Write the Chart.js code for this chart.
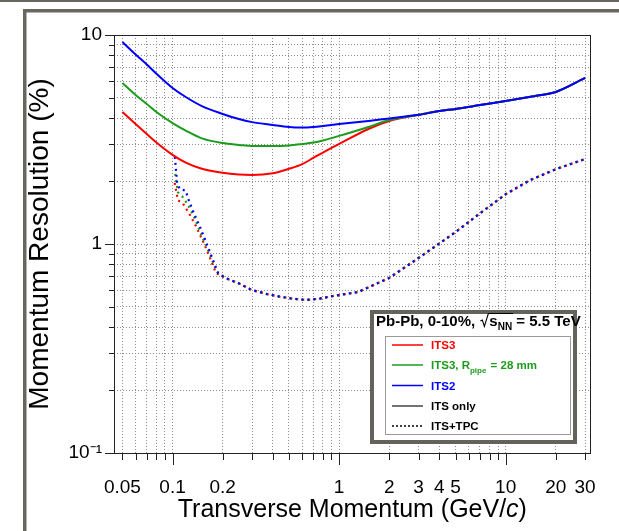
<!DOCTYPE html>
<html><head><meta charset="utf-8">
<script src="https://cdn.jsdelivr.net/npm/chart.js@4"></script>
<style>html,body{margin:0;padding:0;background:#fff;overflow:hidden}canvas{display:block}</style>
</head><body>
<canvas id="c" width="619" height="531" style="width:619px;height:531px"></canvas>
<script>
// ---- data ----
const pSolid = [0.05,0.06,0.07,0.08,0.1,0.12,0.15,0.2,0.25,0.3,0.4,0.5,0.6,0.7,0.8,1,1.5,2,3,4,5,7,10,15,20,30];
const its3Only = [4.28,3.75,3.36,3.06,2.67,2.45,2.29,2.19,2.15,2.14,2.18,2.29,2.41,2.58,2.74,3.01,3.55,3.88,4.15,4.33,4.43,4.62,4.83,5.11,5.34,6.23];
const its3PipeOnly = [5.89,5.16,4.68,4.28,3.79,3.49,3.20,3.04,2.98,2.94,2.94,2.96,3.01,3.06,3.13,3.29,3.63,3.92,4.15,4.33,4.43,4.62,4.83,5.11,5.34,6.23];
const its2Only = [9.26,8.07,7.23,6.53,5.58,5.05,4.57,4.19,3.96,3.83,3.71,3.63,3.61,3.63,3.67,3.75,3.88,3.99,4.15,4.33,4.43,4.62,4.83,5.11,5.34,6.23];

const pTpcIts3 = [0.103,0.1076,0.115,0.127,0.138,0.154,0.17,0.182,0.21,0.25,0.3,0.37,0.44,0.53,0.63,0.76,0.92,1.3,2,3,5,7,10,14,20,30];
const its3Tpc = [1.96,1.62,1.57,1.38,1.22,1.01,0.838,0.726,0.685,0.648,0.602,0.576,0.560,0.547,0.540,0.547,0.564,0.589,0.688,0.857,1.14,1.40,1.73,2.02,2.28,2.55];
const pTpcIts3Pipe = [0.103,0.1076,0.115,0.1235,0.134,0.15,0.167,0.184,0.21,0.25,0.3,0.37,0.44,0.53,0.63,0.76,0.92,1.3,2,3,5,7,10,14,20,30];
const its3PipeTpc = [2.26,1.77,1.68,1.54,1.36,1.09,0.896,0.735,0.685,0.648,0.602,0.576,0.560,0.547,0.540,0.547,0.564,0.589,0.688,0.857,1.14,1.40,1.73,2.02,2.28,2.55];
const pTpcIts2 = [0.103,0.1065,0.1106,0.12,0.124,0.133,0.146,0.16,0.175,0.188,0.21,0.25,0.3,0.37,0.44,0.53,0.63,0.76,0.92,1.3,2,3,5,7,10,14,20,30];
const its2Tpc = [2.67,1.95,1.83,1.80,1.65,1.43,1.21,1.008,0.838,0.724,0.685,0.648,0.602,0.576,0.560,0.547,0.540,0.547,0.564,0.589,0.688,0.857,1.14,1.40,1.73,2.02,2.28,2.55];

const xTickValues = [0.05,0.06,0.07,0.08,0.09,0.1,0.2,0.3,0.4,0.5,0.6,0.7,0.8,0.9,1,2,3,4,5,6,7,8,9,10,20,30];
const xLabelValues = [0.05,0.1,0.2,1,2,3,4,5,10,20,30];
const xLabelTexts = ['0.05','0.1','0.2','1','2','3','4','5','10','20','30'];
const yTickValues = [0.1,0.2,0.3,0.4,0.5,0.6,0.7,0.8,0.9,1,2,3,4,5,6,7,8,9,10];
const yLabelValues = [0.1,1,10];
const yLabelTexts = ['10\u207B\u00B9','1','10'];
const decades = [0.1,1,10];

const xTitle = ['Transverse Momentum (GeV/', 'c', ')'];
const yTitle = 'Momentum Resolution (%)';
const legendTitle = ['Pb-Pb, 0-10%, ', 's', 'NN', ' = 5.5 TeV'];
const legendEntries = ['ITS3', 'ITS3, R', 'ITS2', 'ITS only', 'ITS+TPC'];

// ---- style ----
const RED = '#ff0000', GREEN = '#1c9c1c', BLUE = '#0000ff';
const FONT = '"Liberation Sans", Arial, Helvetica, sans-serif';
const toXY = (xs, ys) => xs.map((x, i) => ({x: x, y: ys[i]}));

function solid(label, xs, ys, color, order) {
  return {label, data: toXY(xs, ys), borderColor: color, backgroundColor: color, borderWidth: 2,
    pointRadius: 0, showLine: true, cubicInterpolationMode: 'monotone', order};
}
function dotted(label, xs, ys, color, offset, order) {
  return {label, data: toXY(xs, ys), borderColor: color, backgroundColor: color, borderWidth: 2.2,
    pointRadius: 0, showLine: true, tension: 0, borderDash: [2, 4], borderDashOffset: offset, borderCapStyle: 'butt', order};
}

const decor = {
  id: 'decor',
  beforeDraw(chart) {
    const ctx = chart.ctx;
    ctx.save();
    ctx.fillStyle = '#fff';
    ctx.fillRect(0, 0, chart.width, chart.height);
    ctx.fillStyle = '#68675f';
    ctx.fillRect(0, 0, chart.width, 2);
    ctx.fillRect(23, 9, chart.width - 23, 3.5);
    ctx.fillRect(23, 9, 3.5, chart.height - 9);
    ctx.restore();
  },
  afterDatasetsDraw(chart) {
    const ctx = chart.ctx, ca = chart.chartArea;
    const xs = chart.scales.x, ys = chart.scales.y;
    ctx.save();
    // frame
    ctx.strokeStyle = '#222';
    ctx.lineWidth = 1;
    ctx.strokeRect(Math.round(ca.left) + 0.5, Math.round(ca.top) + 0.5,
      Math.round(ca.right - ca.left) - 1, Math.round(ca.bottom - ca.top));
    // tick marks
    ctx.beginPath();
    xTickValues.forEach(v => {
      const px = Math.round(xs.getPixelForValue(v)) + 0.5;
      const len = decades.includes(v) ? 12 : 7;
      ctx.moveTo(px, ca.bottom); ctx.lineTo(px, ca.bottom + len);
    });
    yTickValues.forEach(v => {
      const py = Math.round(ys.getPixelForValue(v)) + 0.5;
      const len = decades.includes(v) ? 9 : 5;
      ctx.moveTo(ca.left, py); ctx.lineTo(ca.left - len, py);
    });
    ctx.stroke();

    // x title with italic c
    ctx.fillStyle = '#000';
    ctx.textBaseline = 'alphabetic';
    const fN = '25px ' + FONT, fI = 'italic 25px ' + FONT;
    ctx.font = fN; const w0 = ctx.measureText(xTitle[0]).width, w2 = ctx.measureText(xTitle[2]).width;
    ctx.font = fI; const w1 = ctx.measureText(xTitle[1]).width;
    let tx = (ca.left + ca.right) / 2 - (w0 + w1 + w2) / 2;
    const ty = 517;
    ctx.font = fN; ctx.fillText(xTitle[0], tx, ty); tx += w0;
    ctx.font = fI; ctx.fillText(xTitle[1], tx, ty); tx += w1;
    ctx.font = fN; ctx.fillText(xTitle[2], tx, ty);

    // legend box
    ctx.fillStyle = '#fff';
    ctx.fillRect(370, 310, 207, 134);
    ctx.strokeStyle = '#63625b'; ctx.lineWidth = 4;
    ctx.strokeRect(372, 312, 203, 130);
    ctx.strokeStyle = '#9a9a9a'; ctx.lineWidth = 1;
    ctx.strokeRect(385.5, 336.5, 185, 98);

    // legend title
    ctx.fillStyle = '#000';
    const fb = 'bold 15px ' + FONT, fbs = 'bold 10px ' + FONT;
    let lx = 376; const lb = 326;
    ctx.font = fb; ctx.fillText(legendTitle[0], lx, lb); lx += ctx.measureText(legendTitle[0]).width;
    // radical sign
    ctx.strokeStyle = '#000'; ctx.lineWidth = 1.1;
    ctx.beginPath();
    ctx.moveTo(lx + 1, lb - 5); ctx.lineTo(lx + 3, lb - 6);
    ctx.lineTo(lx + 5, lb + 0.5); ctx.lineTo(lx + 9, lb - 12.5);
    const sStart = lx + 10;
    ctx.font = fb; const ws = ctx.measureText(legendTitle[1]).width;
    ctx.font = fbs; const wn = ctx.measureText(legendTitle[2]).width;
    ctx.lineTo(sStart + ws + wn + 1, lb - 12.5);
    ctx.stroke();
    ctx.font = fb; ctx.fillText(legendTitle[1], sStart, lb);
    ctx.font = fbs; ctx.fillText(legendTitle[2], sStart + ws, lb + 3.5);
    ctx.font = fb; ctx.fillText(legendTitle[3], sStart + ws + wn, lb);

    // legend entries
    const ey = [345, 365, 385.5, 406, 426];
    const colors = [RED, GREEN, BLUE, '#444', '#000'];
    const tcolors = [RED, GREEN, BLUE, '#000', '#000'];
    const fe = 'bold 11.5px ' + FONT, fes = 'bold 8px ' + FONT;
    ey.forEach((y, i) => {
      ctx.strokeStyle = colors[i]; ctx.lineWidth = 1.5;
      ctx.setLineDash(i === 4 ? [2, 2] : []);
      ctx.beginPath(); ctx.moveTo(392, y); ctx.lineTo(423, y); ctx.stroke();
      ctx.setLineDash([]);
      ctx.fillStyle = tcolors[i]; ctx.font = fe;
      let ex = 431;
      ctx.fillText(legendEntries[i], ex, y + 4.2);
      if (i === 1) {
        ex += ctx.measureText(legendEntries[i]).width;
        ctx.font = fes; ctx.fillText('pipe', ex, y + 8);
        ex += ctx.measureText('pipe').width;
        ctx.font = fe; ctx.fillText(' = 28 mm', ex + 1, y + 4.2);
      }
    });
    ctx.restore();
  }
};

new Chart(document.getElementById('c'), {
  type: 'scatter',
  data: {
    datasets: [
      solid('ITS2', pSolid, its2Only, BLUE, 0),
      solid('ITS3, R_pipe = 28 mm', pSolid, its3PipeOnly, GREEN, 1),
      solid('ITS3', pSolid, its3Only, RED, 2),
      dotted('ITS2 ITS+TPC', pTpcIts2, its2Tpc, BLUE, 4, 3),
      dotted('ITS3 R_pipe ITS+TPC', pTpcIts3Pipe, its3PipeTpc, GREEN, 2, 4),
      dotted('ITS3 ITS+TPC', pTpcIts3, its3Tpc, RED, 0, 5)
    ]
  },
  options: {
    responsive: false,
    animation: false,
    devicePixelRatio: 1,
    layout: {padding: {left: 0, right: 27, top: 35, bottom: 0}},
    plugins: {legend: {display: false}, tooltip: {enabled: false}, title: {display: false}},
    scales: {
      x: {
        type: 'logarithmic', position: 'bottom', min: 0.0445, max: 32.4,
        afterBuildTicks: s => { s.ticks = xTickValues.map(v => ({value: v})); },
        afterFit: s => { s.height = 78; },
        ticks: {autoSkip: false, maxRotation: 0, minRotation: 0, padding: 23, color: '#000',
          font: {family: FONT, size: 19},
          callback: v => { const i = xLabelValues.indexOf(v); return i >= 0 ? xLabelTexts[i] : ''; }},
        grid: {color: '#8e8e8e', lineWidth: 1, drawTicks: false},
        border: {display: false, dash: [1, 2]}
      },
      y: {
        type: 'logarithmic', position: 'left', min: 0.1, max: 10,
        afterBuildTicks: s => { s.ticks = yTickValues.map(v => ({value: v})); },
        afterFit: s => { s.width = 114; },
        ticks: {autoSkip: false, padding: 12, color: '#000', font: {family: FONT, size: 19},
          callback: v => { const i = yLabelValues.indexOf(v); return i >= 0 ? yLabelTexts[i] : ''; }},
        grid: {color: '#8e8e8e', lineWidth: 1, drawTicks: false},
        border: {display: false, dash: [1, 2]},
        title: {display: true, text: yTitle, color: '#000', font: {family: FONT, size: 28}, padding: {top: 23, bottom: 0}}
      }
    }
  },
  plugins: [decor]
});
</script>
</body></html>
